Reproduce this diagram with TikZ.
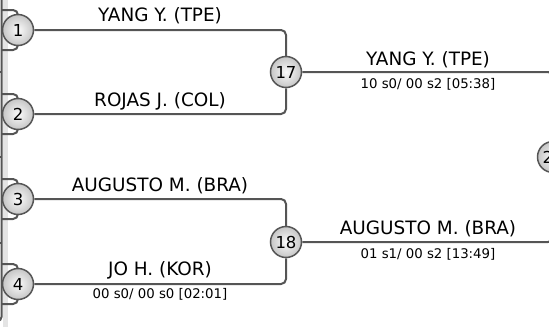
\documentclass[tikz,border=0pt]{standalone}
\usepackage{fontspec}
\setmainfont{DejaVu Sans}
\definecolor{linec}{HTML}{555555}
\definecolor{bandc}{HTML}{E4E4E4}
\begin{document}
\begin{tikzpicture}[x=1pt,y=-1pt,
  conn/.style={draw=linec, line width=2pt, rounded corners=5pt},
  seed/.style={circle, draw=linec, line width=1.5pt, minimum size=31pt, inner sep=0pt,
    inner color=white!97!gray, outer color=gray!45, font=\fontsize{16.5}{16.5}\selectfont},
  pname/.style={font=\fontsize{18.4}{18.4}\selectfont, anchor=base, inner sep=0pt},
  pscore/.style={font=\fontsize{13.3}{13.3}\selectfont, anchor=base, inner sep=0pt}]
\useasboundingbox (0,0) rectangle (549,327);
\clip (0,0) rectangle (549,327);
% left band and edge line
\fill[bandc] (3,0) rectangle (8,327);
\draw[linec, line width=2pt, rounded corners=4pt] (1.5,-5) -- (1.5,321) -- (-6,321);
\foreach \yy in {72,157,243} \draw[linec, line width=1.5pt] (-3,\yy) -- (1.5,\yy);
% seed centres
\coordinate (s1) at (18,30);
\coordinate (s2) at (18,114);
\coordinate (s3) at (18,199);
\coordinate (s4) at (18,284);
% incoming arms behind first-round circles
\foreach \s in {s1,s2,s3,s4} {
  \draw[conn] ([xshift=-16pt,yshift=20pt]\s) -| (\s);
  \draw[conn] ([xshift=-16pt,yshift=-20pt]\s) -| (\s);
}
% circles
\node[seed] (c1) at (s1) {1};
\node[seed] (c2) at (s2) {2};
\node[seed] (c3) at (s3) {3};
\node[seed] (c4) at (s4) {4};
\node[seed] (c17) at (286,72) {17};
\node[seed] (c18) at (286,242) {18};
\node[seed] (c25) at (553,157) {25};
% connectors
\draw[conn] (c1.east) -| (c17.north);
\draw[conn] (c2.east) -| (c17.south);
\draw[conn] (c3.east) -| (c18.north);
\draw[conn] (c4.east) -| (c18.south);
\draw[conn] (c17.east) -| (c25.north);
\draw[conn] (c18.east) -| (c25.south);
% labels
\node[pname] (n1) at (160,21.7) {YANG Y. (TPE)};
\node[pname] (n2) at (160,106.5) {ROJAS J. (COL)};
\node[pname] (n3) at (160,191.5) {AUGUSTO M. (BRA)};
\node[pname] (n4) at (160,275.5) {JO H. (KOR)};
\node[pscore] (r4) at (160,298.5) {00 s0/ 00 s0 [02:01]};
\node[pname] (n17) at (428,65) {YANG Y. (TPE)};
\node[pscore] (r17) at (428,88.3) {10 s0/ 00 s2 [05:38]};
\node[pname] (n18) at (428,234.3) {AUGUSTO M. (BRA)};
\node[pscore] (r18) at (428,258.3) {01 s1/ 00 s2 [13:49]};
\end{tikzpicture}
\end{document}
